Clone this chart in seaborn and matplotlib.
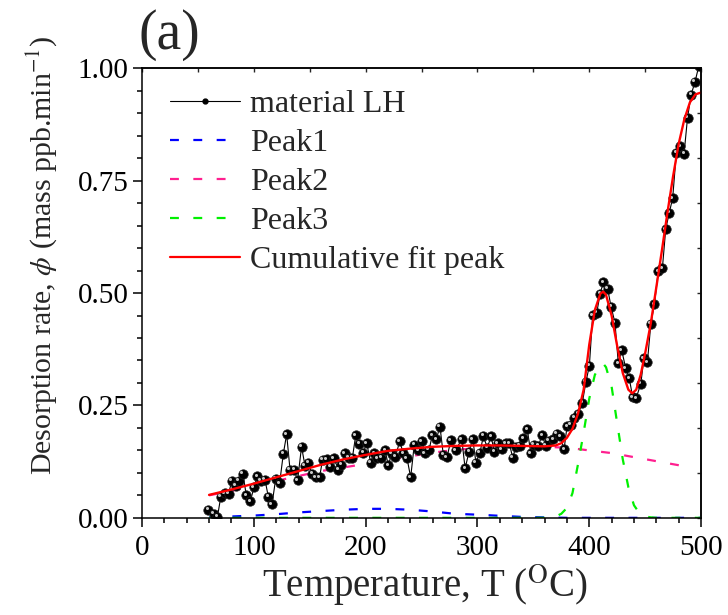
import matplotlib
matplotlib.use("Agg")
import matplotlib.pyplot as plt
import matplotlib.transforms as mtransforms
from matplotlib.lines import Line2D
from matplotlib.ticker import MultipleLocator, FormatStrFormatter
import seaborn as sns

# Measured desorption rate of material LH
temperature = [59.3, 64.4, 67.5, 70.5, 74.2, 77.5, 80.3, 83.9, 86.8, 90.3,
               93.3, 96.9, 100.2, 103.1, 106.3, 110.0, 113.0, 116.3, 119.6, 123.1,
               126.4, 129.4, 132.4, 136.0, 139.2, 142.7, 145.8, 148.8, 152.1, 155.4,
               158.8, 161.5, 165.2, 168.2, 171.7, 175.6, 178.3, 181.6, 184.8, 188.2,
               191.2, 194.4, 198.0, 201.0, 204.5, 207.6, 210.6, 213.8, 217.4, 220.3,
               223.3, 226.6, 230.5, 233.7, 237.0, 240.3, 243.5, 247.1, 250.2, 253.1,
               256.7, 259.7, 263.2, 266.5, 269.5, 272.8, 276.3, 280.5, 286.0, 289.0,
               292.5, 295.8, 298.7, 302.3, 305.3, 308.8, 312.2, 315.2, 318.4, 321.7,
               325.3, 328.5, 331.5, 334.5, 338.1, 341.0, 344.6, 347.7, 350.6, 354.5,
               357.8, 361.1, 364.0, 367.9, 370.9, 373.9, 377.5, 380.2, 383.4, 386.8,
               390.2, 393.8, 397.1, 400.1, 403.1, 406.7, 409.7, 412.6, 416.4, 419.5,
               423.0, 426.0, 429.0, 432.6, 435.8, 438.9, 441.9, 446.1, 448.9, 452.0,
               455.1, 458.3, 461.7, 465.4, 468.4, 471.5, 474.6, 477.9, 481.2, 484.8,
               487.9, 491.1, 494.6, 498.0]
rate = [0.018, 0.009, 0.002, 0.047, 0.055, 0.054, 0.082, 0.071, 0.082, 0.098,
        0.050, 0.037, 0.068, 0.092, 0.083, 0.085, 0.047, 0.030, 0.087, 0.077,
        0.142, 0.186, 0.107, 0.107, 0.084, 0.158, 0.116, 0.123, 0.098, 0.090,
        0.090, 0.129, 0.130, 0.114, 0.133, 0.107, 0.118, 0.144, 0.134, 0.134,
        0.184, 0.165, 0.145, 0.166, 0.123, 0.144, 0.132, 0.134, 0.150, 0.117,
        0.142, 0.136, 0.170, 0.144, 0.133, 0.090, 0.162, 0.150, 0.170, 0.144,
        0.151, 0.184, 0.175, 0.203, 0.140, 0.135, 0.173, 0.150, 0.175, 0.110,
        0.147, 0.175, 0.123, 0.145, 0.182, 0.156, 0.181, 0.147, 0.166, 0.153,
        0.166, 0.166, 0.134, 0.158, 0.160, 0.177, 0.197, 0.144, 0.162, 0.160,
        0.184, 0.160, 0.172, 0.175, 0.187, 0.181, 0.153, 0.204, 0.207, 0.222,
        0.231, 0.256, 0.303, 0.338, 0.451, 0.456, 0.498, 0.524, 0.510, 0.470,
        0.434, 0.344, 0.373, 0.333, 0.310, 0.268, 0.266, 0.298, 0.355, 0.346,
        0.432, 0.475, 0.548, 0.555, 0.642, 0.678, 0.711, 0.812, 0.826, 0.810,
        0.890, 0.941, 0.970, 1.005]

# Fitted component peaks
peak1_T = [60, 80, 100, 120, 140, 160, 180, 200, 220, 240, 260, 280, 300, 320,
           340, 360, 380, 400, 420, 440, 460, 480, 500]
peak1 = [0.001, 0.003, 0.005, 0.008, 0.012, 0.015, 0.018, 0.020, 0.020, 0.018,
         0.014, 0.009, 0.007, 0.0045, 0.002, 0.001, 0.0, 0.0, 0.0, 0.0, 0.0, 0.0, 0.0]

peak2_T = [60, 80, 100, 120, 140, 160, 180, 200, 220, 240, 260, 280, 300, 320,
           340, 360, 380, 400, 420, 440, 460, 480, 490]
peak2 = [0.050, 0.060, 0.071, 0.082, 0.093, 0.104, 0.112, 0.120, 0.129, 0.137,
         0.145, 0.151, 0.155, 0.157, 0.158, 0.158, 0.156, 0.150, 0.144, 0.135,
         0.126, 0.117, 0.112]

peak3_T = [60, 360, 365, 370, 375, 380, 385, 390, 395, 400, 405, 410, 412.5, 415,
           420, 425, 430, 435, 440, 445, 450, 455, 460, 500]
peak3 = [0.0, 0.0, 0.001, 0.003, 0.009, 0.022, 0.055, 0.120, 0.190, 0.265, 0.318,
         0.340, 0.343, 0.335, 0.292, 0.210, 0.130, 0.068, 0.028, 0.010, 0.003,
         0.001, 0.0, 0.0]

cumulative_T = [60, 80, 100, 120, 140, 160, 180, 200, 220, 240, 260, 280, 300, 320,
                340, 360, 370, 375, 380, 385, 390, 395, 400, 405, 410, 412.5, 415,
                420, 425, 430, 435, 438.5, 442, 446, 450, 455, 460, 465, 470, 475,
                480, 485, 490, 495, 500]
cumulative = [0.051, 0.063, 0.076, 0.090, 0.104, 0.118, 0.130, 0.140, 0.149, 0.154,
              0.158, 0.160, 0.161, 0.161, 0.160, 0.159, 0.161, 0.166, 0.178, 0.198,
              0.232, 0.285, 0.385, 0.462, 0.499, 0.503, 0.496, 0.450, 0.382, 0.322,
              0.285, 0.277, 0.285, 0.318, 0.366, 0.432, 0.513, 0.595, 0.680, 0.760,
              0.832, 0.886, 0.924, 0.942, 0.946]

labels = ["material LH", "Peak1", "Peak2", "Peak3", "Cumulative fit peak"]
c_data, c_p1, c_p2, c_p3, c_fit = "black", "#0000ff", "#ff1f8f", "#00f000", "#ff0000"

sns.set_theme(style="ticks")
plt.rcParams["font.family"] = ["Liberation Serif", "DejaVu Serif"]
plt.rcParams["mathtext.fontset"] = "stix"

fig = plt.figure(figsize=(7.28, 6.15), dpi=100)
ax = fig.add_axes([0.195, 0.158, 0.768, 0.731])

dash = (0, (4, 6.5))
sns.lineplot(x=peak1_T, y=peak1, ax=ax, color=c_p1, lw=1.6, linestyle=dash,
             sort=False, estimator=None)
sns.lineplot(x=peak2_T, y=peak2, ax=ax, color=c_p2, lw=1.6, linestyle=dash,
             sort=False, estimator=None)
sns.lineplot(x=peak3_T, y=peak3, ax=ax, color=c_p3, lw=1.6, linestyle=dash,
             sort=False, estimator=None)
sns.lineplot(x=temperature, y=rate, ax=ax, color=c_data, lw=0.8, marker="o",
             markersize=6.8, markerfacecolor="black", markeredgecolor="#222222",
             markeredgewidth=0.5, sort=False, estimator=None)
# small highlight on each marker for a shaded-ball look
hl = mtransforms.offset_copy(ax.transData, fig=fig, x=-1.1, y=1.1, units="points")
ax.plot(temperature, rate, ls="none", marker="o", ms=2.2, color="#c8c8c8",
        markeredgewidth=0, transform=hl)
sns.lineplot(x=cumulative_T, y=cumulative, ax=ax, color=c_fit, lw=1.7,
             sort=False, estimator=None)

ax.set_xlim(0, 500)
ax.set_ylim(0, 1.0)
ax.xaxis.set_major_locator(MultipleLocator(100))
ax.xaxis.set_minor_locator(MultipleLocator(20))
ax.yaxis.set_major_locator(MultipleLocator(0.25))
ax.yaxis.set_minor_locator(MultipleLocator(0.05))
ax.yaxis.set_major_formatter(FormatStrFormatter("%.2f"))
ax.tick_params(which="both", direction="out", width=1.1, colors="black",
               labelsize=21, top=False, right=False)
ax.tick_params(which="major", length=6.5)
ax.tick_params(which="minor", length=3.6)
ax.tick_params(axis="x", which="major", pad=6)
ax.tick_params(axis="y", which="major", pad=3)
for s in ax.spines.values():
    s.set_linewidth(1.1)
    s.set_color("black")

top = ax.secondary_xaxis("top")
top.xaxis.set_major_locator(MultipleLocator(50))
top.tick_params(direction="in", length=3.0, width=1.0, labeltop=False)
right = ax.secondary_yaxis("right")
right.yaxis.set_major_locator(MultipleLocator(0.1))
right.tick_params(direction="in", length=3.0, width=1.0, labelright=False)

ax.set_xlabel(r"Temperature, T ($^{\mathrm{O}}$C)", fontsize=28)
ax.set_ylabel(r"Desorption rate, $\phi$ (mass ppb.min$^{-1}$)", fontsize=21.5)
ax.xaxis.set_label_coords(0.505, -0.098)
ax.yaxis.set_label_coords(-0.148, 0.584)

handles = [
    Line2D([], [], color=c_data, lw=0.8, marker="o", ms=3.5),
    Line2D([], [], color=c_p1, lw=1.6, linestyle=dash),
    Line2D([], [], color=c_p2, lw=1.6, linestyle=dash),
    Line2D([], [], color=c_p3, lw=1.6, linestyle=dash),
    Line2D([], [], color=c_fit, lw=1.6),
]
ax.legend(handles, labels, loc="upper left", bbox_to_anchor=(0.0275, 0.98),
          frameon=False, fontsize=23, handlelength=2.2, handletextpad=0.31,
          labelspacing=0.3, borderaxespad=0.0)

fig.text(0.19, 0.921, "(a)", fontsize=40, va="baseline", ha="left")

fig.savefig("out.png", dpi=100)
